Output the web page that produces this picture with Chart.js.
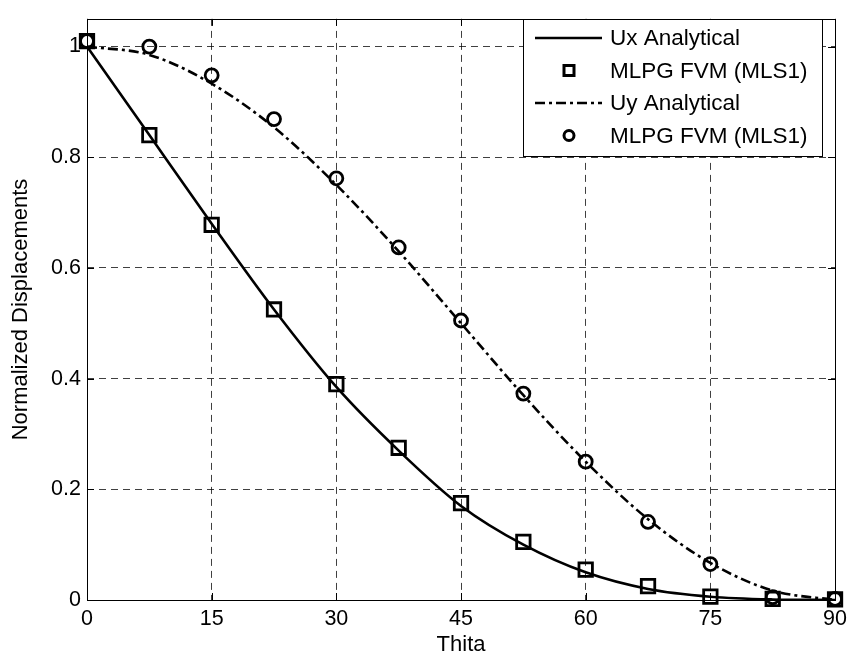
<!DOCTYPE html>
<html><head><meta charset="utf-8">
<script src="https://cdn.jsdelivr.net/npm/chart.js@4"></script>
<style>html,body{margin:0;padding:0;background:#fff}#wrap{width:853px;height:662px}</style>
</head><body><div id="wrap"><canvas id="c" width="853" height="662"></canvas></div>
<script>
// ---- data ----
const theta = [0, 7.5, 15, 22.5, 30, 37.5, 45, 52.5, 60, 67.5, 75, 82.5, 90];
const uxAnalytical = [1.0, 0.84, 0.68, 0.525, 0.385, 0.27, 0.17, 0.10, 0.05, 0.02, 0.006, 0.001, 0];
const uxFvm        = [1.01, 0.84, 0.678, 0.525, 0.39, 0.275, 0.175, 0.105, 0.055, 0.025, 0.006, 0.002, 0.001];
const uyAnalytical = [1.0, 0.985, 0.933, 0.854, 0.75, 0.63, 0.5, 0.37, 0.25, 0.146, 0.067, 0.017, 0];
const uyFvm        = [1.01, 1.0, 0.948, 0.869, 0.762, 0.637, 0.505, 0.373, 0.25, 0.141, 0.065, 0.005, 0.002];
const xTicks = [0, 15, 30, 45, 60, 75, 90];
const yTicks = [0, 0.2, 0.4, 0.6, 0.8, 1];
const seriesLabels = ['Ux Analytical', 'MLPG FVM (MLS1)', 'Uy Analytical', 'MLPG FVM (MLS1)'];
const xTitle = 'Thita';
const yTitle = 'Normalized Displacements';

const FONT = "'Liberation Sans', Arial, Helvetica, sans-serif";
const pts = (ys) => theta.map((t, i) => ({x: t, y: ys[i]}));

const framePlugin = {
  id: 'frame',
  beforeDatasetsDraw(chart) {
    const {ctx, chartArea: a, scales} = chart;
    ctx.save();
    ctx.strokeStyle = '#000';
    ctx.lineWidth = 1;
    ctx.setLineDash([]);
    ctx.strokeRect(Math.round(a.left) + 0.5, Math.round(a.top) + 0.5, Math.round(a.right - a.left), Math.round(a.bottom - a.top));
    const L = 7;
    ctx.beginPath();
    xTicks.forEach(v => {
      const px = Math.round(scales.x.getPixelForValue(v)) + 0.5;
      ctx.moveTo(px, a.bottom); ctx.lineTo(px, a.bottom - L);
      ctx.moveTo(px, a.top); ctx.lineTo(px, a.top + L);
    });
    yTicks.forEach(v => {
      const py = Math.round(scales.y.getPixelForValue(v)) + 0.5;
      ctx.moveTo(a.left, py); ctx.lineTo(a.left + L, py);
      ctx.moveTo(a.right, py); ctx.lineTo(a.right - L, py);
    });
    ctx.stroke();
    ctx.restore();
  }
};

const legendPlugin = {
  id: 'boxLegend',
  afterDraw(chart) {
    const {ctx} = chart;
    const box = {x: 523, y: 19, w: 299, h: 137};
    ctx.save();
    ctx.fillStyle = '#fff';
    ctx.fillRect(box.x, box.y, box.w, box.h);
    ctx.strokeStyle = '#000';
    ctx.lineWidth = 1;
    ctx.setLineDash([]);
    ctx.strokeRect(box.x + 0.5, box.y + 0.5, box.w, box.h);
    const rowY0 = 38, rowH = 32.5;
    chart.data.datasets.forEach((ds, i) => {
      const cy = rowY0 + i * rowH;
      if (ds.showLine !== false) {
        ctx.save();
        ctx.strokeStyle = '#000';
        ctx.lineWidth = ds.borderWidth;
        ctx.setLineDash(ds.borderDash || []);
        ctx.beginPath();
        ctx.moveTo(535, cy); ctx.lineTo(602, cy);
        ctx.stroke();
        ctx.restore();
      } else {
        ctx.save();
        ctx.strokeStyle = '#000';
        ctx.lineWidth = 3;
        ctx.setLineDash([]);
        ctx.beginPath();
        if (ds.pointStyle === 'rect') {
          ctx.rect(569 - 5, cy - 5, 10, 10);
        } else {
          ctx.arc(569, cy, 5, 0, Math.PI * 2);
        }
        ctx.stroke();
        ctx.restore();
      }
      ctx.fillStyle = '#000';
      ctx.font = '22.5px ' + FONT;
      ctx.textBaseline = 'middle';
      ctx.textAlign = 'left';
      ctx.fillText(ds.label, 610, cy + 1);
    });
    ctx.restore();
  }
};

new Chart(document.getElementById('c'), {
  type: 'line',
  data: {
    datasets: [
      {label: seriesLabels[0], data: pts(uxAnalytical), borderColor: '#000', borderWidth: 2.6,
       pointRadius: 0, cubicInterpolationMode: 'monotone', fill: false},
      {label: seriesLabels[1], data: pts(uxFvm), showLine: false, pointStyle: 'rect', pointRadius: 9.5,
       pointBorderWidth: 2.8, pointBorderColor: '#000', pointBackgroundColor: 'rgba(0,0,0,0)', clip: false},
      {label: seriesLabels[2], data: pts(uyAnalytical), borderColor: '#000', borderWidth: 2.6, borderDash: [10, 4, 3, 4],
       pointRadius: 0, cubicInterpolationMode: 'monotone', fill: false},
      {label: seriesLabels[3], data: pts(uyFvm), showLine: false, pointStyle: 'circle', pointRadius: 6.5,
       pointBorderWidth: 2.8, pointBorderColor: '#000', pointBackgroundColor: 'rgba(0,0,0,0)', clip: false}
    ]
  },
  options: {
    responsive: false,
    devicePixelRatio: 1,
    animation: false,
    events: [],
    layout: {padding: {top: 7, right: 16, left: 0, bottom: 0}},
    plugins: {legend: {display: false}, tooltip: {enabled: false}},
    scales: {
      x: {
        type: 'linear', min: 0, max: 90,
        afterBuildTicks: s => { s.ticks = xTicks.map(v => ({value: v})); },
        afterFit: s => { s.height = 62; },
        ticks: {color: '#000', font: {family: FONT, size: 21.5}, padding: 6, maxRotation: 0, autoSkip: false,
                callback: v => String(v)},
        grid: {color: 'rgba(0,0,0,0.75)', lineWidth: 1, drawTicks: false},
        border: {display: false, dash: [7, 5]},
        title: {display: true, text: xTitle, color: '#000', font: {family: FONT, size: 22}, padding: {top: 0, bottom: 4}}
      },
      y: {
        type: 'linear', min: 0, max: 1.05,
        afterBuildTicks: s => { s.ticks = yTicks.map(v => ({value: v})); },
        afterFit: s => { s.width = 87; },
        ticks: {color: '#000', font: {family: FONT, size: 21.5}, padding: 6, autoSkip: false,
                callback: v => String(Math.round(v * 10) / 10)},
        grid: {color: 'rgba(0,0,0,0.75)', lineWidth: 1, drawTicks: false},
        border: {display: false, dash: [7, 5]},
        title: {display: true, text: yTitle, color: '#000', font: {family: FONT, size: 22}, padding: {top: 8, bottom: 0}}
      }
    }
  },
  plugins: [framePlugin, legendPlugin]
});
</script>
</body></html>
